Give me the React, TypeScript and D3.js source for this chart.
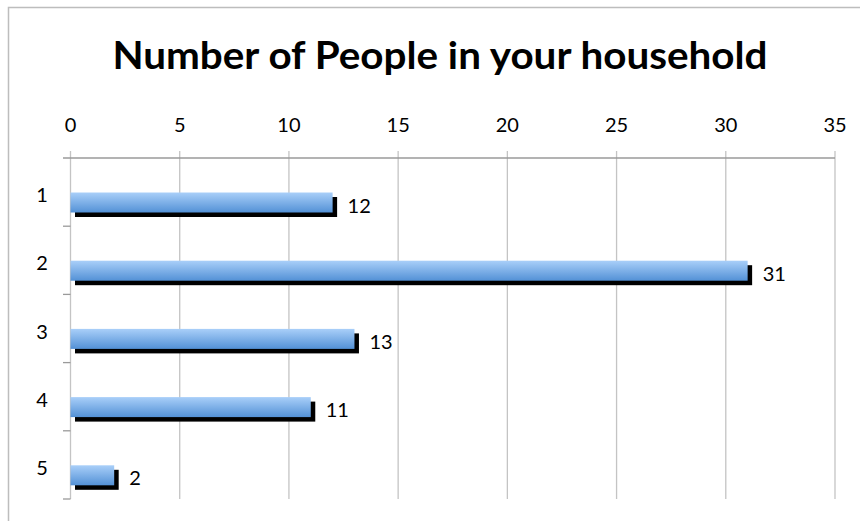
import React from "react";
import * as d3 from "d3";

const categories = ["1", "2", "3", "4", "5"];
const values = [12, 31, 13, 11, 2];
const xTicks = [0, 5, 10, 15, 20, 25, 30, 35];
const title = "Number of People in your household";

const W = 860;
const H = 521;
const FONT = "Lato, 'Open Sans', 'Noto Sans', sans-serif";

export default function App() {
  const x = d3.scaleLinear().domain([0, 35]).range([70.5, 835]);
  const y = d3.scaleBand().domain(categories).range([158, 499]);
  const barH = 20;
  const barOff = 34.5;
  const sh = 4.5;
  return (
    <svg width={W} height={H} style={{ position: "absolute", left: 0, top: 0 }}>
      <defs>
        <linearGradient id="barGrad" x1="0" y1="0" x2="0" y2="1">
          <stop offset="0%" stopColor="#a9cff9" />
          <stop offset="100%" stopColor="#5391d6" />
        </linearGradient>
      </defs>
      <rect x={0} y={0} width={W} height={H} fill="#fff" />
      <rect x={8.5} y={7.5} width={W + 10} height={H + 10} fill="none" stroke="#bdbdbd" strokeWidth={1.5} />
      <text x={440} y={69} textAnchor="middle" fontFamily={FONT} fontWeight="bold" fontSize={38}
        textLength={655} lengthAdjust="spacingAndGlyphs" fill="#000">
        {title}
      </text>
      {xTicks.map((t) => (
        <g key={t}>
          <line x1={x(t)} x2={x(t)} y1={151} y2={499} stroke="#c4c4c4" strokeWidth={1.3} />
          <text x={x(t)} y={132} textAnchor="middle" fontFamily={FONT} fontSize={20} fill="#000">
            {t}
          </text>
        </g>
      ))}
      <line x1={63} x2={835} y1={158} y2={158} stroke="#9a9a9a" strokeWidth={1.3} />
      {categories.map((c, i) => (
        <g key={c}>
          <line x1={63} x2={70.5} y1={y(c)! + y.bandwidth()} y2={y(c)! + y.bandwidth()} stroke="#9a9a9a" strokeWidth={1.3} />
          <text x={42} y={y(c)! + y.bandwidth() / 2 + 10} textAnchor="middle" fontFamily={FONT} fontSize={20} fill="#000">
            {c}
          </text>
          <rect x={x(0) + sh} y={y(c)! + barOff + sh} width={x(values[i]) - x(0)} height={barH} fill="#000" />
          <rect x={x(0)} y={y(c)! + barOff} width={x(values[i]) - x(0)} height={barH} fill="url(#barGrad)" />
          <text x={x(values[i]) + 15} y={y(c)! + barOff + barH / 2 + 10} textAnchor="start" fontFamily={FONT} fontSize={20} fill="#000">
            {values[i]}
          </text>
        </g>
      ))}
    </svg>
  );
}
